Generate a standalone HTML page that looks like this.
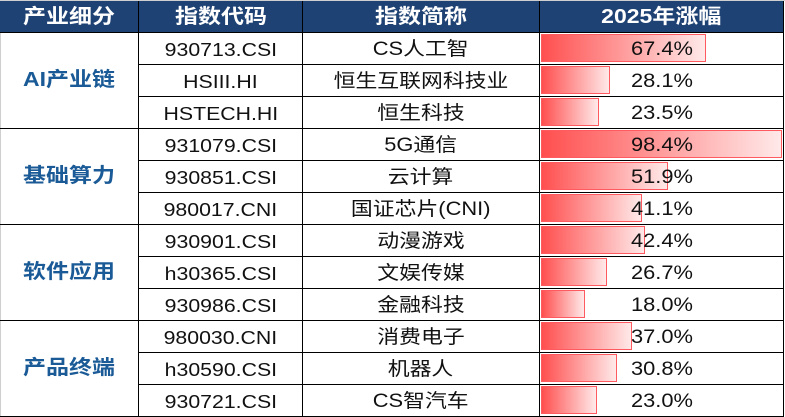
<!DOCTYPE html>
<html><head><meta charset="utf-8">
<style>
html,body{margin:0;padding:0;background:#fff;}
#c{position:relative;width:785px;height:417px;overflow:hidden;background:#fff;font-family:"Liberation Sans","Noto Sans CJK SC",sans-serif;}
.a{position:absolute;}
.hl{position:absolute;height:1px;background:#000;}
.vl{position:absolute;width:1px;background:#000;}
.t{position:absolute;text-align:center;white-space:nowrap;}
.t span{display:inline-block;transform:scaleX(1.15);transform-origin:center;}
.hd{color:#fff;font-weight:bold;font-size:20px;line-height:32px;height:32px;}
.cat{color:#1a5a96;font-weight:bold;font-size:20px;}
.b{color:#111;font-size:18.5px;line-height:32px;height:32px;}
.cj{font-size:19px;}
.bar{position:absolute;left:541px;height:26px;border:1px solid #ff5a5f;background:linear-gradient(to right,#ff4f4f,#ffe9e9);}
</style></head><body>
<div id="c">
<!-- header -->
<div class="a" style="left:0;top:0;width:785px;height:1px;background:#cfcfcf"></div>
<div class="a" style="left:0;top:1px;width:783px;height:31px;background:#1f4274"></div>
<div class="a" style="left:0;top:32px;width:1px;height:385px;background:#cfcfcf"></div>
<div class="t hd" style="left:0;top:1px;width:138px"><span>产业细分</span></div>
<div class="t hd" style="left:139px;top:1px;width:163px"><span>指数代码</span></div>
<div class="t hd" style="left:303px;top:1px;width:236px"><span>指数简称</span></div>
<div class="t hd" style="left:540px;top:1px;width:243px"><span>2025年涨幅</span></div>

<!-- bars -->
<div class="bar" style="top:34px;width:163px"></div>
<div class="bar" style="top:66px;width:67px"></div>
<div class="bar" style="top:98px;width:56px"></div>
<div class="bar" style="top:130px;width:239px"></div>
<div class="bar" style="top:162px;width:125px"></div>
<div class="bar" style="top:194px;width:99px"></div>
<div class="bar" style="top:226px;width:102px"></div>
<div class="bar" style="top:258px;width:64px"></div>
<div class="bar" style="top:290px;width:42px"></div>
<div class="bar" style="top:322px;width:89px"></div>
<div class="bar" style="top:354px;width:74px"></div>
<div class="bar" style="top:386px;width:54px"></div>

<!-- horizontal lines -->
<div class="hl" style="left:0;top:32px;width:784px"></div>
<div class="hl" style="left:138px;top:64px;width:646px"></div>
<div class="hl" style="left:138px;top:96px;width:646px"></div>
<div class="hl" style="left:0;top:128px;width:784px"></div>
<div class="hl" style="left:138px;top:160px;width:646px"></div>
<div class="hl" style="left:138px;top:192px;width:646px"></div>
<div class="hl" style="left:0;top:224px;width:784px"></div>
<div class="hl" style="left:138px;top:256px;width:646px"></div>
<div class="hl" style="left:138px;top:288px;width:646px"></div>
<div class="hl" style="left:0;top:320px;width:784px"></div>
<div class="hl" style="left:138px;top:352px;width:646px"></div>
<div class="hl" style="left:138px;top:384px;width:646px"></div>
<div class="hl" style="left:0;top:416px;width:784px"></div>
<!-- vertical lines -->
<div class="vl" style="left:138px;top:1px;height:416px"></div>
<div class="vl" style="left:302px;top:1px;height:416px"></div>
<div class="vl" style="left:539px;top:1px;height:416px"></div>
<div class="vl" style="left:783px;top:1px;height:416px"></div>

<!-- categories -->
<div class="t cat" style="left:0;top:33px;width:138px;height:95px;line-height:95px"><span>AI产业链</span></div>
<div class="t cat" style="left:0;top:129px;width:138px;height:95px;line-height:95px"><span>基础算力</span></div>
<div class="t cat" style="left:0;top:225px;width:138px;height:95px;line-height:95px"><span>软件应用</span></div>
<div class="t cat" style="left:0;top:321px;width:138px;height:95px;line-height:95px"><span>产品终端</span></div>

<!-- codes -->
<div class="t b" style="left:139px;top:34px;width:163px"><span>930713.CSI</span></div>
<div class="t b" style="left:139px;top:66px;width:163px"><span>HSIII.HI</span></div>
<div class="t b" style="left:139px;top:98px;width:163px"><span>HSTECH.HI</span></div>
<div class="t b" style="left:139px;top:130px;width:163px"><span>931079.CSI</span></div>
<div class="t b" style="left:139px;top:162px;width:163px"><span>930851.CSI</span></div>
<div class="t b" style="left:139px;top:194px;width:163px"><span>980017.CNI</span></div>
<div class="t b" style="left:139px;top:226px;width:163px"><span>930901.CSI</span></div>
<div class="t b" style="left:139px;top:258px;width:163px"><span>h30365.CSI</span></div>
<div class="t b" style="left:139px;top:290px;width:163px"><span>930986.CSI</span></div>
<div class="t b" style="left:139px;top:322px;width:163px"><span>980030.CNI</span></div>
<div class="t b" style="left:139px;top:354px;width:163px"><span>h30590.CSI</span></div>
<div class="t b" style="left:139px;top:386px;width:163px"><span>930721.CSI</span></div>

<!-- names -->
<div class="t b cj" style="left:303px;top:34px;width:236px"><span>CS人工智</span></div>
<div class="t b cj" style="left:303px;top:66px;width:236px"><span>恒生互联网科技业</span></div>
<div class="t b cj" style="left:303px;top:98px;width:236px"><span>恒生科技</span></div>
<div class="t b cj" style="left:303px;top:130px;width:236px"><span>5G通信</span></div>
<div class="t b cj" style="left:303px;top:162px;width:236px"><span>云计算</span></div>
<div class="t b cj" style="left:303px;top:194px;width:236px"><span>国证芯片(CNI)</span></div>
<div class="t b cj" style="left:303px;top:226px;width:236px"><span>动漫游戏</span></div>
<div class="t b cj" style="left:303px;top:258px;width:236px"><span>文娱传媒</span></div>
<div class="t b cj" style="left:303px;top:290px;width:236px"><span>金融科技</span></div>
<div class="t b cj" style="left:303px;top:322px;width:236px"><span>消费电子</span></div>
<div class="t b cj" style="left:303px;top:354px;width:236px"><span>机器人</span></div>
<div class="t b cj" style="left:303px;top:386px;width:236px"><span>CS智汽车</span></div>

<!-- percents -->
<div class="t b cj" style="left:540px;top:34px;width:243px"><span>67.4%</span></div>
<div class="t b cj" style="left:540px;top:66px;width:243px"><span>28.1%</span></div>
<div class="t b cj" style="left:540px;top:98px;width:243px"><span>23.5%</span></div>
<div class="t b cj" style="left:540px;top:130px;width:243px"><span>98.4%</span></div>
<div class="t b cj" style="left:540px;top:162px;width:243px"><span>51.9%</span></div>
<div class="t b cj" style="left:540px;top:194px;width:243px"><span>41.1%</span></div>
<div class="t b cj" style="left:540px;top:226px;width:243px"><span>42.4%</span></div>
<div class="t b cj" style="left:540px;top:258px;width:243px"><span>26.7%</span></div>
<div class="t b cj" style="left:540px;top:290px;width:243px"><span>18.0%</span></div>
<div class="t b cj" style="left:540px;top:322px;width:243px"><span>37.0%</span></div>
<div class="t b cj" style="left:540px;top:354px;width:243px"><span>30.8%</span></div>
<div class="t b cj" style="left:540px;top:386px;width:243px"><span>23.0%</span></div>
</div>
</body></html>
